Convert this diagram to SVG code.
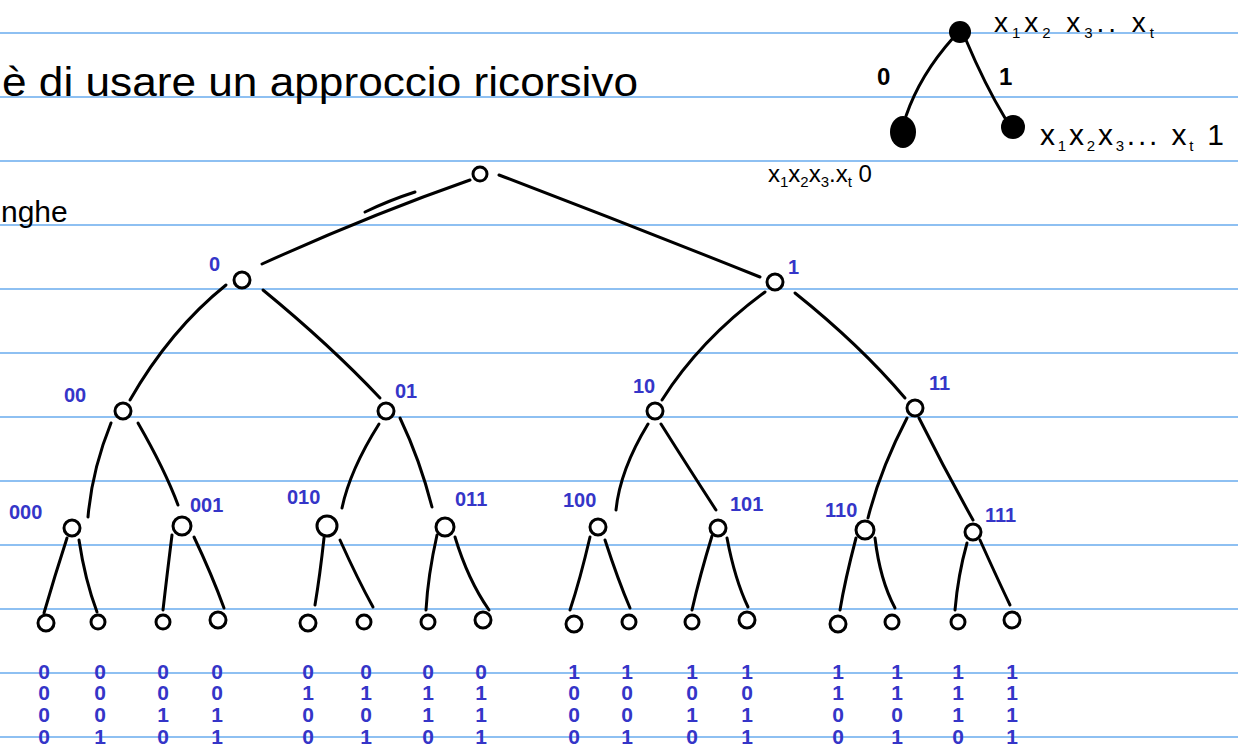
<svg xmlns="http://www.w3.org/2000/svg" width="1238" height="747" viewBox="0 0 1238 747">
<style>
.rule{stroke:#8ec0f2;stroke-width:2}
.hw{font-family:"Liberation Sans",Arial,sans-serif;fill:#000}
.e{fill:none;stroke:#000;stroke-width:3;stroke-linecap:round;stroke-linejoin:round}
.n{fill:#fff;stroke:#000;stroke-width:3}
.d{fill:#000}
.b{font-family:"Liberation Sans",Arial,sans-serif;font-weight:bold;font-size:20px;fill:#3535c8}
.bits{font-family:"Liberation Sans",Arial,sans-serif;font-weight:bold;font-size:21px;fill:#3535c8;text-anchor:middle}
.sub{font-size:15px}
</style>
<rect width="1238" height="747" fill="#fff"/>
<g id="rules">
<line class="rule" x1="0" y1="33" x2="1238" y2="33"/>
<line class="rule" x1="0" y1="97" x2="1238" y2="97"/>
<line class="rule" x1="0" y1="161" x2="1238" y2="161"/>
<line class="rule" x1="0" y1="225" x2="1238" y2="225"/>
<line class="rule" x1="0" y1="289" x2="1238" y2="289"/>
<line class="rule" x1="0" y1="353" x2="1238" y2="353"/>
<line class="rule" x1="0" y1="417" x2="1238" y2="417"/>
<line class="rule" x1="0" y1="481" x2="1238" y2="481"/>
<line class="rule" x1="0" y1="545" x2="1238" y2="545"/>
<line class="rule" x1="0" y1="609" x2="1238" y2="609"/>
<line class="rule" x1="0" y1="673" x2="1238" y2="673"/>
<line class="rule" x1="0" y1="737" x2="1238" y2="737"/>
</g>
<g id="notes">
<text class="hw" x="2" y="96" font-size="40" textLength="636" lengthAdjust="spacingAndGlyphs">è di usare un approccio ricorsivo</text>
<text class="hw" x="1" y="222" font-size="30">nghe</text>
</g>
<g id="connectors">
<path class="e" d="M470,180 Q370,215 262,264"/>
<path class="e" d="M365,212 Q390,200 415,192"/>
<path class="e" d="M499,175 Q630,225 760,277"/>
<path class="e" d="M226,285 Q170,330 130,400"/>
<path class="e" d="M263,290 Q330,345 380,398"/>
<path class="e" d="M765,292 Q700,340 662,400"/>
<path class="e" d="M795,293 Q860,345 905,398"/>
<path class="e" d="M111,423 Q92,470 88,517"/>
<path class="e" d="M138,423 Q165,470 178,505"/>
<path class="e" d="M379,424 Q350,470 342,508"/>
<path class="e" d="M400,418 Q420,460 432,507"/>
<path class="e" d="M648,424 Q620,470 616,510"/>
<path class="e" d="M661,424 Q690,470 716,510"/>
<path class="e" d="M907,418 Q880,470 868,518"/>
<path class="e" d="M919,418 Q945,470 973,520"/>
<path class="e" d="M67,538 Q55,575 44,613"/>
<path class="e" d="M79,540 Q85,580 97,612"/>
<path class="e" d="M172,535 Q167,575 163,610"/>
<path class="e" d="M194,537 Q212,575 224,608"/>
<path class="e" d="M324,538 Q320,575 315,605"/>
<path class="e" d="M340,540 Q358,580 373,607"/>
<path class="e" d="M437,535 Q428,575 426,610"/>
<path class="e" d="M455,537 Q468,580 489,610"/>
<path class="e" d="M590,537 Q580,580 570,610"/>
<path class="e" d="M605,540 Q618,580 630,608"/>
<path class="e" d="M712,536 Q700,575 692,610"/>
<path class="e" d="M727,538 Q735,580 748,607"/>
<path class="e" d="M856,538 Q845,580 840,610"/>
<path class="e" d="M875,538 Q880,580 895,608"/>
<path class="e" d="M967,543 Q958,575 955,610"/>
<path class="e" d="M980,540 Q998,580 1010,605"/>
<path class="e" d="M953,38 Q920,75 906,116"/>
<path class="e" d="M966,40 Q985,85 1005,118"/>
</g>
<g id="root"><circle class="n" cx="480" cy="174" r="7"/></g>
<g id="n0"><circle class="n" cx="242" cy="280" r="8"/><text class="b" x="209" y="271">0</text></g>
<g id="n1"><circle class="n" cx="775" cy="282" r="8"/><text class="b" x="788" y="274">1</text></g>
<g id="n00"><circle class="n" cx="123" cy="411" r="8"/><text class="b" x="64" y="402">00</text></g>
<g id="n01"><circle class="n" cx="386" cy="411" r="8"/><text class="b" x="395" y="398">01</text></g>
<g id="n10"><circle class="n" cx="655" cy="411" r="8"/><text class="b" x="633" y="393">10</text></g>
<g id="n11"><circle class="n" cx="915" cy="408" r="8"/><text class="b" x="929" y="390">11</text></g>
<g id="n000"><circle class="n" cx="72" cy="528" r="8"/><text class="b" x="9" y="519">000</text></g>
<g id="n001"><circle class="n" cx="182" cy="526" r="9"/><text class="b" x="190" y="512">001</text></g>
<g id="n010"><circle class="n" cx="327" cy="526" r="10"/><text class="b" x="287" y="504">010</text></g>
<g id="n011"><circle class="n" cx="445" cy="527" r="9"/><text class="b" x="455" y="506">011</text></g>
<g id="n100"><circle class="n" cx="598" cy="527" r="8"/><text class="b" x="563" y="507">100</text></g>
<g id="n101"><circle class="n" cx="718" cy="528" r="8"/><text class="b" x="730" y="511">101</text></g>
<g id="n110"><circle class="n" cx="865" cy="530" r="9"/><text class="b" x="825" y="517">110</text></g>
<g id="n111"><circle class="n" cx="973" cy="532" r="8"/><text class="b" x="985" y="522">111</text></g>
<g id="leaves">
<circle class="n" cx="46" cy="623" r="8"/><circle class="n" cx="98" cy="622" r="7"/>
<circle class="n" cx="163" cy="622" r="7"/><circle class="n" cx="218" cy="620" r="8"/>
<circle class="n" cx="308" cy="623" r="8"/><circle class="n" cx="364" cy="622" r="7"/>
<circle class="n" cx="428" cy="622" r="7"/><circle class="n" cx="483" cy="620" r="8"/>
<circle class="n" cx="574" cy="624" r="8"/><circle class="n" cx="629" cy="622" r="7"/>
<circle class="n" cx="692" cy="622" r="7"/><circle class="n" cx="747" cy="620" r="8"/>
<circle class="n" cx="838" cy="624" r="8"/><circle class="n" cx="892" cy="622" r="7"/>
<circle class="n" cx="958" cy="622" r="7"/><circle class="n" cx="1012" cy="620" r="8"/>
</g>
<g id="bits">
<text class="bits" x="44" y="679">0</text><text class="bits" x="44" y="700">0</text><text class="bits" x="44" y="722">0</text><text class="bits" x="44" y="744">0</text>
<text class="bits" x="100" y="679">0</text><text class="bits" x="100" y="700">0</text><text class="bits" x="100" y="722">0</text><text class="bits" x="100" y="744">1</text>
<text class="bits" x="163" y="679">0</text><text class="bits" x="163" y="700">0</text><text class="bits" x="163" y="722">1</text><text class="bits" x="163" y="744">0</text>
<text class="bits" x="217" y="679">0</text><text class="bits" x="217" y="700">0</text><text class="bits" x="217" y="722">1</text><text class="bits" x="217" y="744">1</text>
<text class="bits" x="308" y="679">0</text><text class="bits" x="308" y="700">1</text><text class="bits" x="308" y="722">0</text><text class="bits" x="308" y="744">0</text>
<text class="bits" x="366" y="679">0</text><text class="bits" x="366" y="700">1</text><text class="bits" x="366" y="722">0</text><text class="bits" x="366" y="744">1</text>
<text class="bits" x="428" y="679">0</text><text class="bits" x="428" y="700">1</text><text class="bits" x="428" y="722">1</text><text class="bits" x="428" y="744">0</text>
<text class="bits" x="481" y="679">0</text><text class="bits" x="481" y="700">1</text><text class="bits" x="481" y="722">1</text><text class="bits" x="481" y="744">1</text>
<text class="bits" x="574" y="679">1</text><text class="bits" x="574" y="700">0</text><text class="bits" x="574" y="722">0</text><text class="bits" x="574" y="744">0</text>
<text class="bits" x="627" y="679">1</text><text class="bits" x="627" y="700">0</text><text class="bits" x="627" y="722">0</text><text class="bits" x="627" y="744">1</text>
<text class="bits" x="692" y="679">1</text><text class="bits" x="692" y="700">0</text><text class="bits" x="692" y="722">1</text><text class="bits" x="692" y="744">0</text>
<text class="bits" x="747" y="679">1</text><text class="bits" x="747" y="700">0</text><text class="bits" x="747" y="722">1</text><text class="bits" x="747" y="744">1</text>
<text class="bits" x="838" y="679">1</text><text class="bits" x="838" y="700">1</text><text class="bits" x="838" y="722">0</text><text class="bits" x="838" y="744">0</text>
<text class="bits" x="897" y="679">1</text><text class="bits" x="897" y="700">1</text><text class="bits" x="897" y="722">0</text><text class="bits" x="897" y="744">1</text>
<text class="bits" x="958" y="679">1</text><text class="bits" x="958" y="700">1</text><text class="bits" x="958" y="722">1</text><text class="bits" x="958" y="744">0</text>
<text class="bits" x="1012" y="679">1</text><text class="bits" x="1012" y="700">1</text><text class="bits" x="1012" y="722">1</text><text class="bits" x="1012" y="744">1</text>
</g>
<g id="mini-root"><circle class="d" cx="960" cy="32" r="11"/>
<text class="hw" x="994" y="32" font-size="28" textLength="160" lengthAdjust="spacing">x<tspan class="sub" dy="6">1</tspan><tspan dy="-6">x</tspan><tspan class="sub" dy="6">2</tspan><tspan dy="-6"> x</tspan><tspan class="sub" dy="6">3</tspan><tspan dy="-6">.. x</tspan><tspan class="sub" dy="6">t</tspan></text>
</g>
<g id="mini-left"><ellipse class="d" cx="903" cy="132" rx="13" ry="16"/>
<text class="hw" x="768" y="182" font-size="24">x<tspan class="sub" dy="5">1</tspan><tspan dy="-5">x</tspan><tspan class="sub" dy="5">2</tspan><tspan dy="-5">x</tspan><tspan class="sub" dy="5">3</tspan><tspan dy="-5">.x</tspan><tspan class="sub" dy="5">t</tspan><tspan dy="-5"> 0</tspan></text>
<text class="hw" x="877" y="85" font-size="24" font-weight="bold">0</text>
</g>
<g id="mini-right"><circle class="d" cx="1013" cy="127" r="12"/>
<text class="hw" x="1040" y="145" font-size="30" textLength="184" lengthAdjust="spacing">x<tspan class="sub" dy="6">1</tspan><tspan dy="-6">x</tspan><tspan class="sub" dy="6">2</tspan><tspan dy="-6">x</tspan><tspan class="sub" dy="6">3</tspan><tspan dy="-6">... x</tspan><tspan class="sub" dy="6">t</tspan><tspan dy="-6"> 1</tspan></text>
<text class="hw" x="999" y="85" font-size="24" font-weight="bold">1</text>
</g>
</svg>
